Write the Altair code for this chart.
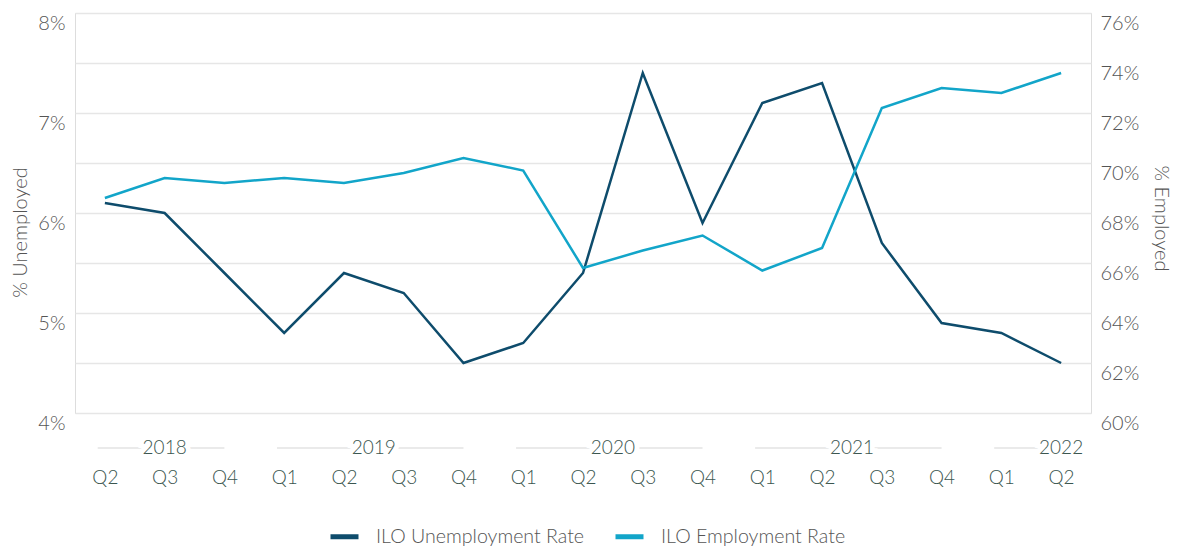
import altair as alt
import pandas as pd

quarters = ["Q2", "Q3", "Q4", "Q1", "Q2", "Q3", "Q4", "Q1", "Q2", "Q3", "Q4",
            "Q1", "Q2", "Q3", "Q4", "Q1", "Q2"]
years = [2018, 2018, 2018, 2019, 2019, 2019, 2019, 2020, 2020, 2020, 2020,
         2021, 2021, 2021, 2021, 2022, 2022]
unemployment = [6.1, 6.0, 5.4, 4.8, 5.4, 5.2, 4.5, 4.7, 5.4, 7.4, 5.9,
                7.1, 7.3, 5.7, 4.9, 4.8, 4.5]
employment = [68.6, 69.4, 69.2, 69.4, 69.2, 69.6, 70.2, 69.7, 65.8, 66.5, 67.1,
              65.7, 66.6, 72.2, 73.0, 72.8, 73.6]

UNEMP = "ILO Unemployment Rate"
EMP = "ILO Employment Rate"
DARK = "#0e4c6c"
LIGHT = "#12a5c9"
FONT = "Lato"
GRAY = "#555555"
QCOL = "#3b564f"

df = pd.DataFrame({
    "idx": list(range(len(quarters))),
    "quarter": quarters,
    "year": years,
    "unemp": unemployment,
    "emp": employment,
})

g = df.groupby("year")["idx"]
yr = pd.DataFrame({"year": g.min().index.astype(str)})
yr["start"] = g.min().values - 0.12
yr["end"] = g.max().values
yr["center"] = [m if n >= 3 else mx for m, n, mx in zip(g.mean().values, g.size().values, g.max().values)]

label_expr = "[" + ",".join(f"'{q}'" for q in quarters) + "][datum.value]"
xscale = alt.Scale(domain=[-0.5, len(quarters) - 0.5], nice=False, zero=False)
xaxis = alt.Axis(values=list(range(len(quarters))), labelExpr=label_expr, title=None,
                 grid=False, domain=False, ticks=False, labelPadding=55,
                 labelFontSize=19, labelColor=QCOL, labelFont=FONT, labelFontWeight=300)

color_scale = alt.Scale(domain=[UNEMP, EMP], range=[DARK, LIGHT])
legend = alt.Legend(title=None, orient="none", legendX=253, legendY=507, direction="horizontal",
                    symbolType="stroke", symbolSize=784, symbolStrokeWidth=5,
                    labelFontSize=19.6, labelFont=FONT, labelFontWeight=300, labelColor=GRAY,
                    labelLimit=400, columnPadding=20, labelOffset=15)

base = alt.Chart(df)

line_u = base.mark_line(strokeWidth=2.5).encode(
    x=alt.X("idx:Q", scale=xscale, axis=xaxis),
    y=alt.Y("unemp:Q", scale=alt.Scale(domain=[4, 8], nice=False, zero=False),
            axis=alt.Axis(values=[4, 4.5, 5, 5.5, 6, 6.5, 7, 7.5, 8],
                          labelExpr="datum.value % 1 == 0 ? datum.value + '%' : ''",
                          title="% Unemployed", titleX=-55, titleY=219, titleBaseline="middle",
                          titleFontSize=20, titleFont=FONT, titleFontWeight=300, titleColor=GRAY,
                          labelFontSize=20, labelFont=FONT, labelFontWeight=300, labelColor=GRAY,
                          labelBaseline="top", labelPadding=10, domain=False, ticks=False,
                          grid=True, gridColor="#e6e6e6", gridWidth=1.5)),
    color=alt.Color("s:N", scale=color_scale, legend=legend),
).transform_calculate(s=f"'{UNEMP}'")

line_e = base.mark_line(strokeWidth=2.5).encode(
    x=alt.X("idx:Q", scale=xscale, axis=xaxis),
    y=alt.Y("emp:Q", scale=alt.Scale(domain=[60, 76], nice=False, zero=False),
            axis=alt.Axis(orient="right", values=list(range(60, 77, 2)),
                          labelExpr="datum.value + '%'",
                          title="% Employed", titleX=69, titleY=205, titleBaseline="middle",
                          titleAngle=90,
                          titleFontSize=20, titleFont=FONT, titleFontWeight=300, titleColor=GRAY,
                          labelFontSize=20, labelFont=FONT, labelFontWeight=300, labelColor=GRAY,
                          labelBaseline="top", labelPadding=9, domain=False, ticks=False, grid=False)),
    color=alt.Color("s:N", scale=color_scale, legend=legend),
).transform_calculate(s=f"'{EMP}'")

ybase = alt.Chart(yr)
year_rules = ybase.mark_rule(color="#e3e3e3", strokeWidth=1.5).encode(
    x=alt.X("start:Q", scale=xscale, axis=xaxis),
    x2="end:Q",
    y=alt.value(435),
)
year_halo = ybase.mark_text(fontSize=19, font=FONT, fontWeight=300, color="white",
                            stroke="white", strokeWidth=10, baseline="middle").encode(
    x=alt.X("center:Q", scale=xscale, axis=xaxis),
    y=alt.value(435),
    text="year:N",
)
year_text = ybase.mark_text(fontSize=19, font=FONT, fontWeight=300, color=QCOL,
                            baseline="middle").encode(
    x=alt.X("center:Q", scale=xscale, axis=xaxis),
    y=alt.value(435),
    text="year:N",
)

chart = alt.layer(year_rules, year_halo, year_text, line_u, line_e).resolve_scale(
    y="independent"
).properties(
    width=1016, height=400,
    autosize=alt.AutoSizeParams(type="none"),
    padding={"left": 67, "top": 5, "right": 88, "bottom": 136},
).configure_view(stroke=None).configure(font=FONT)

chart.save("out.html", embed_options={"renderer": "svg", "actions": False})
